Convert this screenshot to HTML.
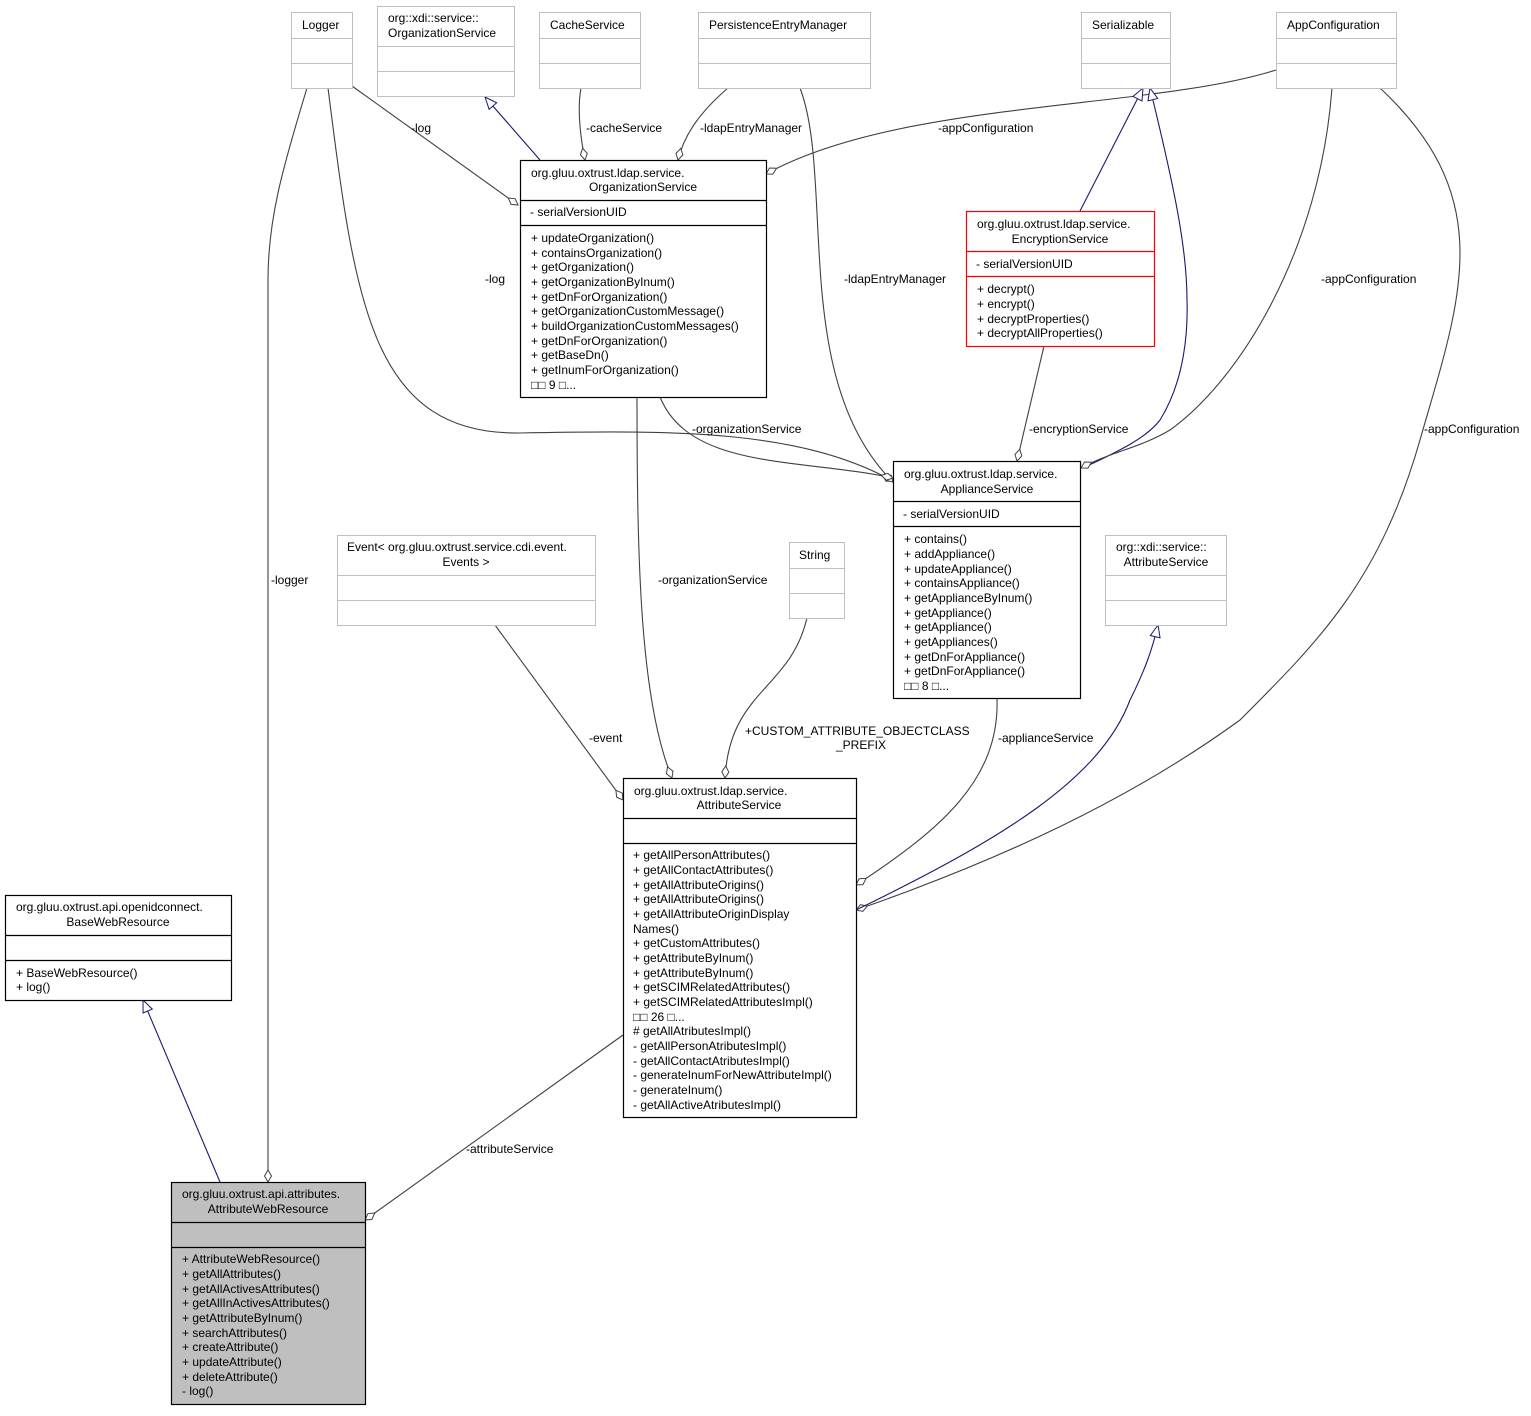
<!DOCTYPE html>
<html><head><meta charset="utf-8"><style>
body{margin:0;background:#fff}
svg text{font-family:"Liberation Sans",sans-serif;font-size:12px;fill:#000}
.g{fill:#fff;stroke:#bfbfbf;stroke-width:1}
.b{fill:#fff;stroke:#000;stroke-width:1.2}
.r{fill:#fff;stroke:#f00;stroke-width:1.2}
.e{fill:none;stroke:#404040;stroke-width:1.1}
.n{fill:none;stroke:#191970;stroke-width:1.1}
</style></head><body>
<svg width="1531" height="1411" xmlns="http://www.w3.org/2000/svg">
<defs>
<marker id="d" markerWidth="14" markerHeight="9" refX="13" refY="4.5" orient="auto" markerUnits="userSpaceOnUse"><path d="M1,4.5 L7,1 L13,4.5 L7,8 Z" fill="#fff" stroke="#404040"/></marker>
<marker id="dn" markerWidth="14" markerHeight="9" refX="13" refY="4.5" orient="auto" markerUnits="userSpaceOnUse"><path d="M1,4.5 L7,1 L13,4.5 L7,8 Z" fill="#fff" stroke="#404040"/></marker>
<marker id="t" markerWidth="14" markerHeight="12" refX="13" refY="6" orient="auto" markerUnits="userSpaceOnUse"><path d="M1,1 L13,6 L1,11 Z" fill="#fff" stroke="#191970"/></marker>
</defs>

<!-- edges -->
<path class="e" d="M352,86 L518,205" marker-end="url(#d)"/>
<path class="e" d="M328,88 C355,300 370,435 520,433 C680,430 800,430 893,481" marker-end="url(#d)"/>
<path class="e" d="M307,88 C282,170 268,220 268,280 L268,1182" marker-end="url(#d)"/>
<path class="n" d="M540,160 L485,97" marker-end="url(#t)"/>
<path class="e" d="M581,88 C577,110 580,135 585,160" marker-end="url(#d)"/>
<path class="e" d="M728,88 C700,112 684,135 678,160" marker-end="url(#d)"/>
<path class="e" d="M800,88 C835,180 790,380 893,482" marker-end="url(#d)"/>
<path class="e" d="M1276,70 C1150,110 900,100 766,174" marker-end="url(#d)"/>
<path class="n" d="M1080,211 L1143,88" marker-end="url(#t)"/>
<path class="n" d="M1083,468 C1110,455 1145,440 1160,420 C1185,380 1188,330 1187,300 C1187,250 1175,190 1150,88" marker-end="url(#t)"/>
<path class="e" d="M1332,88 C1320,250 1240,380 1170,430 C1140,448 1110,452 1081,468" marker-end="url(#d)"/>
<path class="e" d="M1380,88 C1500,200 1460,300 1420,440 C1380,580 1320,640 1240,720 C1130,800 1000,860 856,910" marker-end="url(#d)"/>
<path class="e" d="M1044,346 L1017,461" marker-end="url(#d)"/>
<path class="e" d="M660,397 C690,470 800,458 893,478" marker-end="url(#d)"/>
<path class="e" d="M637,397 C637,560 640,700 672,778" marker-end="url(#d)"/>
<path class="e" d="M495,625 L623,800" marker-end="url(#d)"/>
<path class="e" d="M807,618 C790,690 730,690 725,778" marker-end="url(#d)"/>
<path class="e" d="M997,698 C1000,780 940,830 856,885" marker-end="url(#d)"/>
<path class="n" d="M856,910 C1000,840 1100,780 1130,700 C1145,670 1152,650 1158,625" marker-end="url(#t)"/>
<path class="e" d="M623,1035 L365,1220" marker-end="url(#d)"/>
<path class="n" d="M220,1182 L143,1000" marker-end="url(#t)"/>

<!-- edge labels -->
<text x="411" y="132">-log</text>
<text x="485" y="283">-log</text>
<text x="271" y="584">-logger</text>
<text x="586" y="132">-cacheService</text>
<text x="700" y="132">-ldapEntryManager</text>
<text x="844" y="283">-ldapEntryManager</text>
<text x="938" y="132">-appConfiguration</text>
<text x="1321" y="283">-appConfiguration</text>
<text x="1424" y="433">-appConfiguration</text>
<text x="1029" y="433">-encryptionService</text>
<text x="692" y="433">-organizationService</text>
<text x="658" y="584">-organizationService</text>
<text x="589" y="742">-event</text>
<text x="745" y="735">+CUSTOM_ATTRIBUTE_OBJECTCLASS</text>
<text x="836" y="749">_PREFIX</text>
<text x="998" y="742">-applianceService</text>
<text x="466" y="1153">-attributeService</text>

<!-- gray boxes -->
<rect class="g" x="291.5" y="12.5" width="61" height="76"/><path class="g" d="M291.5,38.5H352.5M291.5,63.5H352.5"/>
<text x="302" y="29">Logger</text>
<rect class="g" x="377.5" y="6.5" width="137" height="90"/><path class="g" d="M377.5,46.5H514.5M377.5,71.5H514.5"/>
<text x="388" y="22">org::xdi::service::</text><text x="388" y="37">OrganizationService</text>
<rect class="g" x="539.5" y="12.5" width="101" height="76"/><path class="g" d="M539.5,38.5H640.5M539.5,63.5H640.5"/>
<text x="550" y="29">CacheService</text>
<rect class="g" x="698.5" y="12.5" width="172" height="76"/><path class="g" d="M698.5,38.5H870.5M698.5,63.5H870.5"/>
<text x="709" y="29">PersistenceEntryManager</text>
<rect class="g" x="1081.5" y="12.5" width="89" height="76"/><path class="g" d="M1081.5,38.5H1170.5M1081.5,63.5H1170.5"/>
<text x="1092" y="29">Serializable</text>
<rect class="g" x="1276.5" y="12.5" width="120" height="76"/><path class="g" d="M1276.5,38.5H1396.5M1276.5,63.5H1396.5"/>
<text x="1287" y="29">AppConfiguration</text>
<rect class="g" x="337.5" y="535.5" width="258" height="90"/><path class="g" d="M337.5,575.5H595.5M337.5,600.5H595.5"/>
<text x="347" y="551">Event&lt; org.gluu.oxtrust.service.cdi.event.</text><text x="466" y="566" text-anchor="middle">Events &gt;</text>
<rect class="g" x="789.5" y="542.5" width="55" height="76"/><path class="g" d="M789.5,568.5H844.5M789.5,593.5H844.5"/>
<text x="799" y="559">String</text>
<rect class="g" x="1105.5" y="535.5" width="121" height="90"/><path class="g" d="M1105.5,575.5H1226.5M1105.5,600.5H1226.5"/>
<text x="1116" y="551">org::xdi::service::</text><text x="1166" y="566" text-anchor="middle">AttributeService</text>

<!-- OrganizationService -->
<rect class="b" x="520.5" y="160.5" width="246" height="237"/><path class="b" d="M520.5,200.5H766.5M520.5,225.5H766.5"/>
<text x="531" y="177">org.gluu.oxtrust.ldap.service.</text><text x="643" y="191" text-anchor="middle">OrganizationService</text>
<text x="530" y="216">- serialVersionUID</text>
<text x="531" y="242">+ updateOrganization()</text>
<text x="531" y="257">+ containsOrganization()</text>
<text x="531" y="271">+ getOrganization()</text>
<text x="531" y="286">+ getOrganizationByInum()</text>
<text x="531" y="301">+ getDnForOrganization()</text>
<text x="531" y="315">+ getOrganizationCustomMessage()</text>
<text x="531" y="330">+ buildOrganizationCustomMessages()</text>
<text x="531" y="345">+ getDnForOrganization()</text>
<text x="531" y="359">+ getBaseDn()</text>
<text x="531" y="374">+ getInumForOrganization()</text>
<text x="531" y="389">□□ 9 □...</text>

<!-- EncryptionService -->
<rect class="r" x="966.5" y="211.5" width="188" height="135"/><path class="r" d="M966.5,251.5H1154.5M966.5,276.5H1154.5"/>
<text x="977" y="228">org.gluu.oxtrust.ldap.service.</text><text x="1060" y="243" text-anchor="middle">EncryptionService</text>
<text x="976" y="268">- serialVersionUID</text>
<text x="977" y="293">+ decrypt()</text>
<text x="977" y="308">+ encrypt()</text>
<text x="977" y="323">+ decryptProperties()</text>
<text x="977" y="337">+ decryptAllProperties()</text>

<!-- ApplianceService -->
<rect class="b" x="893.5" y="461.5" width="187" height="237"/><path class="b" d="M893.5,501.5H1080.5M893.5,526.5H1080.5"/>
<text x="904" y="478">org.gluu.oxtrust.ldap.service.</text><text x="987" y="493" text-anchor="middle">ApplianceService</text>
<text x="903" y="518">- serialVersionUID</text>
<text x="904" y="543">+ contains()</text>
<text x="904" y="558">+ addAppliance()</text>
<text x="904" y="573">+ updateAppliance()</text>
<text x="904" y="587">+ containsAppliance()</text>
<text x="904" y="602">+ getApplianceByInum()</text>
<text x="904" y="617">+ getAppliance()</text>
<text x="904" y="631">+ getAppliance()</text>
<text x="904" y="646">+ getAppliances()</text>
<text x="904" y="661">+ getDnForAppliance()</text>
<text x="904" y="675">+ getDnForAppliance()</text>
<text x="904" y="690">□□ 8 □...</text>

<!-- AttributeService -->
<rect class="b" x="623.5" y="778.5" width="233" height="339"/><path class="b" d="M623.5,818.5H856.5M623.5,843.5H856.5"/>
<text x="634" y="795">org.gluu.oxtrust.ldap.service.</text><text x="739" y="809" text-anchor="middle">AttributeService</text>
<text x="633" y="859">+ getAllPersonAttributes()</text>
<text x="633" y="874">+ getAllContactAttributes()</text>
<text x="633" y="889">+ getAllAttributeOrigins()</text>
<text x="633" y="903">+ getAllAttributeOrigins()</text>
<text x="633" y="918">+ getAllAttributeOriginDisplay</text>
<text x="633" y="933">Names()</text>
<text x="633" y="947">+ getCustomAttributes()</text>
<text x="633" y="962">+ getAttributeByInum()</text>
<text x="633" y="977">+ getAttributeByInum()</text>
<text x="633" y="991">+ getSCIMRelatedAttributes()</text>
<text x="633" y="1006">+ getSCIMRelatedAttributesImpl()</text>
<text x="633" y="1021">□□ 26 □...</text>
<text x="633" y="1035"># getAllAtributesImpl()</text>
<text x="633" y="1050">- getAllPersonAtributesImpl()</text>
<text x="633" y="1065">- getAllContactAtributesImpl()</text>
<text x="633" y="1079">- generateInumForNewAttributeImpl()</text>
<text x="633" y="1094">- generateInum()</text>
<text x="633" y="1109">- getAllActiveAtributesImpl()</text>

<!-- BaseWebResource -->
<rect class="b" x="5.5" y="895.5" width="226" height="105"/><path class="b" d="M5.5,935.5H231.5M5.5,960.5H231.5"/>
<text x="16" y="911">org.gluu.oxtrust.api.openidconnect.</text><text x="118" y="926" text-anchor="middle">BaseWebResource</text>
<text x="16" y="977">+ BaseWebResource()</text>
<text x="16" y="991">+ log()</text>

<!-- AttributeWebResource -->
<rect x="171.5" y="1182.5" width="194" height="222" fill="#bfbfbf" stroke="#000" stroke-width="1.2"/><path class="b" d="M171.5,1222.5H365.5M171.5,1247.5H365.5"/>
<text x="182" y="1198">org.gluu.oxtrust.api.attributes.</text><text x="268" y="1213" text-anchor="middle">AttributeWebResource</text>
<text x="182" y="1263">+ AttributeWebResource()</text>
<text x="182" y="1278">+ getAllAttributes()</text>
<text x="182" y="1293">+ getAllActivesAttributes()</text>
<text x="182" y="1307">+ getAllInActivesAttributes()</text>
<text x="182" y="1322">+ getAttributeByInum()</text>
<text x="182" y="1337">+ searchAttributes()</text>
<text x="182" y="1351">+ createAttribute()</text>
<text x="182" y="1366">+ updateAttribute()</text>
<text x="182" y="1381">+ deleteAttribute()</text>
<text x="182" y="1395">- log()</text>
</svg>
</body></html>
